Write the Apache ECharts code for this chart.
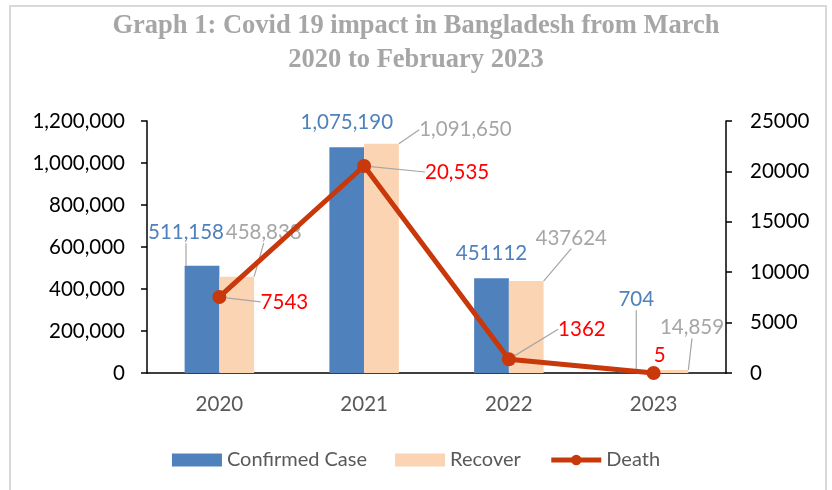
<!DOCTYPE html>
<html>
<head>
<meta charset="utf-8">
<script src="https://cdn.jsdelivr.net/npm/echarts@6/dist/echarts.min.js"></script>
<style>
  html, body { margin: 0; padding: 0; background: #fff; }
  #chart { width: 832px; height: 490px; }
</style>
</head>
<body>
<div id="chart"></div>
<script>
// Yearly figures, March 2020 – February 2023
const years = ['2020', '2021', '2022', '2023'];
const confirmedCases = [511158, 1075190, 451112, 704];
const recovered = [458838, 1091650, 437624, 14859];
const deaths = [7543, 20535, 1362, 5];

// Label texts as printed on the chart
const confirmedLabels = ['511,158', '1,075,190', '451112', '704'];
const recoveredLabels = ['458,838', '1,091,650', '437624', '14,859'];
const deathLabels = ['7543', '20,535', '1362', '5'];

// Label placement relative to the bar top / point centre, and whether a leader line is drawn
const confirmedOffsets = [[-16, -33, true], [0, -25, false], [0, -25, false], [0, -73, true]];
const recoveredOffsets = [[27, -44, true], [84, -14, true], [45, -43, true], [21, -42, true]];
const deathOffsets = [[65, 5, true], [93, 6, true], [73, -30, true], [6, -18, false]];

const FONT = 'Lato';
const LABEL_SIZE = 20.5;

function makeData(values, texts, offsets) {
  return values.map((v, i) => ({
    value: v,
    label: { formatter: texts[i] },
    labelLine: { show: offsets[i][2] }
  }));
}

function layoutFor(offsets, anchorTop) {
  return function (p) {
    const o = offsets[p.dataIndex];
    const r = p.rect;
    const cx = r.x + r.width / 2;
    const cy = anchorTop ? r.y : r.y + r.height / 2;
    return { x: cx + o[0], y: cy + o[1], align: 'center', verticalAlign: 'middle' };
  };
}

const leader = { show: true, lineStyle: { color: '#A6A6A6', width: 1.2 }, smooth: false };

const chart = echarts.init(document.getElementById('chart'), null, { renderer: 'canvas' });
chart.setOption({
  animation: false,
  backgroundColor: '#fff',
  title: {
    text: 'Graph 1: Covid 19 impact in Bangladesh from March\n2020 to February 2023',
    left: 'center',
    top: 4,
    textStyle: {
      fontFamily: 'Liberation Serif',
      fontWeight: 'bold',
      fontSize: 26.5,
      lineHeight: 34,
      color: '#A6A6A6'
    }
  },
  graphic: [{
    type: 'polyline',
    shape: { points: [[10, 490], [10, 6], [826, 6], [826, 490]] },
    style: { stroke: '#D9D9D9', lineWidth: 2, fill: null },
    silent: true
  }],
  legend: {
    bottom: 15,
    left: 'center',
    itemWidth: 50,
    itemHeight: 13,
    itemGap: 28,
    textStyle: { fontFamily: FONT, fontSize: 20, color: '#595959' },
    data: [
      { name: 'Confirmed Case', icon: 'rect' },
      { name: 'Recover', icon: 'rect' },
      { name: 'Death', lineStyle: { width: 5 }, itemStyle: { borderWidth: 0 } }
    ]
  },
  grid: { left: 147, right: 106, top: 121, bottom: 117, containLabel: false },
  xAxis: {
    type: 'category',
    data: years,
    axisLine: { lineStyle: { color: '#000', width: 1.5 } },
    axisTick: { show: false },
    axisLabel: { fontFamily: FONT, fontSize: LABEL_SIZE, color: '#595959', margin: 21 }
  },
  yAxis: [{
    type: 'value',
    min: 0, max: 1200000, interval: 200000,
    splitLine: { show: false },
    axisLine: { show: true, lineStyle: { color: '#000', width: 1.5 } },
    axisTick: { show: true, length: 6, lineStyle: { color: '#000', width: 1.5 } },
    axisLabel: {
      fontFamily: FONT, fontSize: LABEL_SIZE, color: '#000', margin: 22,
      formatter: v => v.toLocaleString('en-US')
    }
  }, {
    type: 'value',
    min: 0, max: 25000, interval: 5000,
    position: 'right',
    splitLine: { show: false },
    axisLine: { show: true, lineStyle: { color: '#000', width: 1.5 } },
    axisTick: { show: true, length: 6, lineStyle: { color: '#000', width: 1.5 } },
    axisLabel: { fontFamily: FONT, fontSize: LABEL_SIZE, color: '#000', margin: 24, formatter: v => String(v) }
  }],
  series: [{
    name: 'Confirmed Case',
    type: 'bar',
    barGap: '0%',
    barCategoryGap: '52%',
    itemStyle: { color: '#4F81BD' },
    data: makeData(confirmedCases, confirmedLabels, confirmedOffsets),
    label: { show: true, position: 'top', fontFamily: FONT, fontSize: LABEL_SIZE, color: '#4F81BD' },
    labelLine: leader,
    labelLayout: layoutFor(confirmedOffsets, true),
    z: 2
  }, {
    name: 'Recover',
    type: 'bar',
    itemStyle: { color: '#FBD4B4' },
    data: makeData(recovered, recoveredLabels, recoveredOffsets),
    label: { show: true, position: 'top', fontFamily: FONT, fontSize: LABEL_SIZE, color: '#A6A6A6' },
    labelLine: leader,
    labelLayout: layoutFor(recoveredOffsets, true),
    z: 2
  }, {
    name: 'Death',
    type: 'line',
    yAxisIndex: 1,
    symbol: 'circle',
    symbolSize: 14,
    lineStyle: { color: '#C8380A', width: 5 },
    itemStyle: { color: '#C8380A' },
    data: makeData(deaths, deathLabels, deathOffsets),
    label: { show: true, position: 'inside', fontFamily: FONT, fontSize: LABEL_SIZE, color: '#FF0000' },
    labelLine: leader,
    labelLayout: layoutFor(deathOffsets, false),
    z: 3
  }]
});
</script>
</body>
</html>
